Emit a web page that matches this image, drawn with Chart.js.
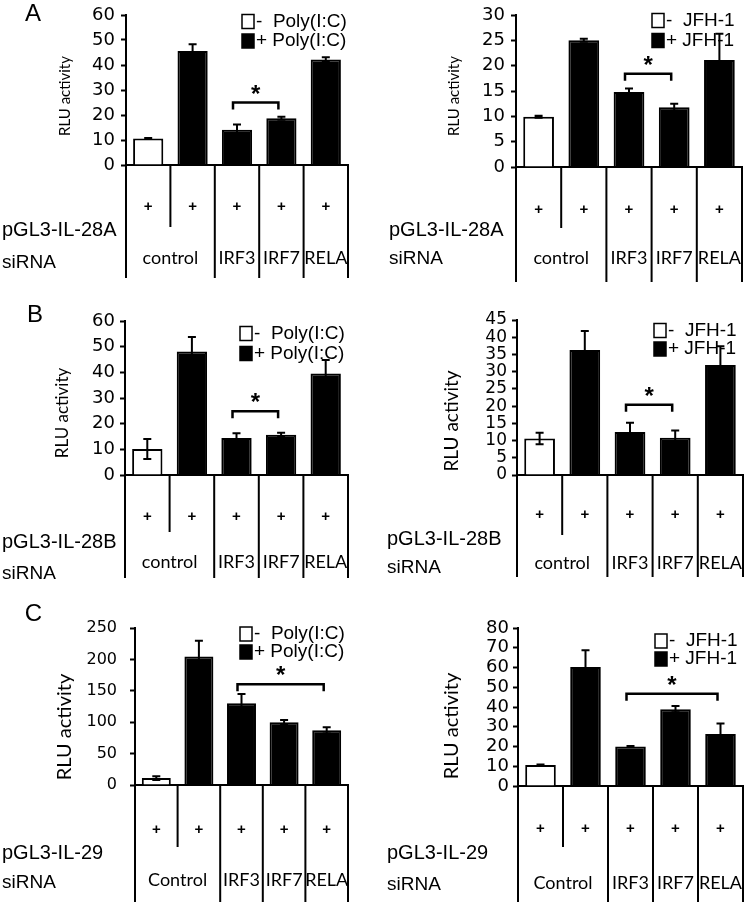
<!DOCTYPE html>
<html>
<head>
<meta charset="utf-8">
<script src="https://cdn.jsdelivr.net/npm/chart.js@4.4.1/dist/chart.umd.min.js"></script>
<style>
  body { margin: 0; background: #fff; }
  #fig { position: relative; width: 745px; height: 902px; }
  canvas { position: absolute; }
</style>
</head>
<body>
<div id="fig">
  <canvas id="aL" width="372" height="300" style="left:0;top:0"></canvas>
  <canvas id="aR" width="373" height="300" style="left:372px;top:0"></canvas>
  <canvas id="bL" width="372" height="300" style="left:0;top:300px"></canvas>
  <canvas id="bR" width="373" height="300" style="left:372px;top:300px"></canvas>
  <canvas id="cL" width="372" height="302" style="left:0;top:600px"></canvas>
  <canvas id="cR" width="373" height="302" style="left:372px;top:600px"></canvas>
</div>
<script>
// bars, left to right: control siRNA without / with stimulus, then knockdowns with stimulus
const bars = ["control -", "control +", "IRF3 +", "IRF7 +", "RELA +"];
const stimulated = [false, true, true, true, true];
const siRNA28 = ["control", "control", "IRF3", "IRF7", "RELA"];
const siRNA29 = ["Control", "Control", "IRF3", "IRF7", "RELA"];

// RLU activity (mean) and error
const il28aPoly = [10.6, 45.6, 14.1, 18.7, 42.2];
const il28aPolyErr = [0.2, 2.7, 2.1, 0.6, 0.9];
const il28aJfh = [9.9, 25.0, 14.8, 11.8, 21.1];
const il28aJfhErr = [0.2, 0.3, 0.7, 0.7, 5.2];
const il28bPoly = [10.1, 48.1, 14.4, 15.7, 39.5];
const il28bPolyErr = [3.9, 5.7, 1.9, 0.8, 5.3];
const il28bJfh = [10.6, 36.3, 12.5, 10.8, 31.9];
const il28bJfhErr = [1.7, 5.5, 2.7, 2.1, 5.5];
const il29Poly = [11, 204.5, 130, 100, 87];
const il29PolyErr = [3, 25, 15, 3.5, 5];
const il29Jfh = [10.6, 60.2, 20, 38.9, 26.3];
const il29JfhErr = [0.3, 8.5, 0.3, 1.6, 5.3];

// y tick labels
const ticks60 = [0, 10, 20, 30, 40, 50, 60];
const ticks30 = [0, 5, 10, 15, 20, 25, 30];
const ticks45 = [0, 5, 10, 15, 20, 25, 30, 35, 40, 45];
const ticks250 = [0, 50, 100, 150, 200, 250];
const ticks80 = [0, 10, 20, 30, 40, 50, 60, 70, 80];

Chart.defaults.font.family = "Liberation Sans";
Chart.defaults.color = "#000";

const panels = [
  { id: "aL", letter: "A", reporter: "pGL3-IL-28A", stim: "Poly(I:C)", siRNA: siRNA28,
    vals: il28aPoly, err: il28aPolyErr, ticks: ticks60, sig: { from: 2, to: 3, at: 25 },
    frame: { axis: 126, right: 348, top: 10, zero: 173 }, title: { x: 65, y: 96, size: 15 },
    tickSize: 18, tickPad: 6, legend: { x: 242, y: [21.5, 41] }, labelX: 2, letterPos: [33, 14.5],
    rows: { plus: 207, reporter: 230, siRNA: 263, group: 258, short: 227, end: 278 } },
  { id: "aR", reporter: "pGL3-IL-28A", stim: "JFH-1", siRNA: siRNA28,
    vals: il28aJfh, err: il28aJfhErr, ticks: ticks30, sig: { from: 2, to: 3, at: 18.4 },
    frame: { axis: 144, right: 370, top: 14, zero: 175 }, title: { x: 82, y: 96, size: 15 },
    tickSize: 18, tickPad: 6, legend: { x: 280, y: [20.5, 40.5] }, labelX: 17,
    rows: { plus: 210, reporter: 230, siRNA: 259, group: 258, short: 228, end: 282 } },
  { id: "bL", letter: "B", reporter: "pGL3-IL-28B", stim: "Poly(I:C)", siRNA: siRNA28,
    vals: il28bPoly, err: il28bPolyErr, ticks: ticks60, sig: { from: 2, to: 3, at: 24.8 },
    frame: { axis: 125, right: 348, top: 21, zero: 183 }, title: { x: 63, y: 113, size: 17 },
    tickSize: 18, tickPad: 5, legend: { x: 240, y: [33.5, 53.5] }, labelX: 2, letterPos: [35, 15.5],
    rows: { plus: 217, reporter: 242, siRNA: 274, group: 262, short: 232, end: 278 } },
  { id: "bR", reporter: "pGL3-IL-28B", stim: "JFH-1", siRNA: siRNA28,
    vals: il28bJfh, err: il28bJfhErr, ticks: ticks45, sig: { from: 2, to: 3, at: 20.4 },
    frame: { axis: 145, right: 371, top: 20, zero: 183 }, title: { x: 80, y: 121, size: 19 },
    tickSize: 17, tickPad: 5, legend: { x: 282, y: [30.5, 49] }, labelX: 15,
    rows: { plus: 215, reporter: 239, siRNA: 268, group: 263, short: 235, end: 277 } },
  { id: "cL", letter: "C", reporter: "pGL3-IL-29", stim: "Poly(I:C)", siRNA: siRNA29,
    vals: il29Poly, err: il29PolyErr, ticks: ticks250, sig: { from: 2, to: 4, at: 160.6 },
    frame: { axis: 135, right: 348, top: 28, zero: 193 }, title: { x: 65, y: 127, size: 20 },
    tickSize: 16, tickPad: 13, legend: { x: 240, y: [34, 52] }, labelX: 2, letterPos: [33.5, 14.5],
    rows: { plus: 230, reporter: 253, siRNA: 283, group: 280, short: 247, end: 302 } },
  { id: "cR", reporter: "pGL3-IL-29", stim: "JFH-1", siRNA: siRNA29,
    vals: il29Jfh, err: il29JfhErr, ticks: ticks80, sig: { from: 2, to: 4, at: 46.7 },
    frame: { axis: 146, right: 371, top: 28, zero: 194 }, title: { x: 80, y: 126, size: 20 },
    tickSize: 18, tickPad: 4, legend: { x: 283, y: [41, 59] }, labelX: 15,
    rows: { plus: 229, reporter: 253, siRNA: 285, group: 283, short: 247, end: 302 } }
];

// error bars, table under the axis, bracket, legend, titles
function figure(p) {
  return {
    id: "figure",
    afterDatasetsDraw(chart) {
      const ctx = chart.ctx, y = chart.scales.y;
      ctx.save();
      ctx.strokeStyle = "#000";
      ctx.lineWidth = 2;
      chart.data.datasets.forEach((ds, di) => {
        chart.getDatasetMeta(di).data.forEach((bar, i) => {
          if (ds.data[i] == null) return;
          const hi = y.getPixelForValue(ds.data[i] + p.err[i]);
          const lo = y.getPixelForValue(ds.data[i] - p.err[i]);
          ctx.beginPath();
          ctx.moveTo(bar.x, hi); ctx.lineTo(bar.x, lo);
          ctx.moveTo(bar.x - 4, hi); ctx.lineTo(bar.x + 4, hi);
          ctx.moveTo(bar.x - 4, lo); ctx.lineTo(bar.x + 4, lo);
          ctx.stroke();
        });
      });
      ctx.restore();
    },
    afterDraw(chart) {
      const ctx = chart.ctx, x = chart.scales.x, y = chart.scales.y, area = chart.chartArea;
      const n = p.vals.length, r = p.rows;
      ctx.save();
      ctx.strokeStyle = "#000";
      ctx.fillStyle = "#000";
      ctx.lineWidth = 2;

      /* table lines */
      ctx.beginPath();
      ctx.moveTo(area.left, area.bottom); ctx.lineTo(area.left, r.end);
      for (let i = 1; i <= n; i++) {
        const bx = x.getPixelForValue(i - 0.5);
        const same = i < n && p.siRNA[i] === p.siRNA[i - 1];
        ctx.moveTo(bx, area.bottom); ctx.lineTo(bx, same ? r.short : r.end);
      }
      ctx.stroke();

      ctx.textAlign = "center";
      ctx.textBaseline = "middle";
      ctx.font = "bold 15px 'Liberation Sans'";
      for (let i = 0; i < n; i++) ctx.fillText("+", x.getPixelForValue(i), r.plus);

      ctx.font = "18px Lato";
      let s = 0;
      for (let i = 1; i <= n; i++) {
        if (i === n || p.siRNA[i] !== p.siRNA[s]) {
          ctx.fillText(p.siRNA[s], x.getPixelForValue((s + i - 1) / 2), r.group);
          s = i;
        }
      }

      ctx.textAlign = "left";
      ctx.font = "20px 'Liberation Sans'";
      ctx.fillText(p.reporter, p.labelX, r.reporter);
      ctx.font = "19px 'Liberation Sans'";
      ctx.fillText("siRNA", p.labelX, r.siRNA);

      /* significance bracket */
      const yb = y.getPixelForValue(p.sig.at);
      const xa = x.getPixelForValue(p.sig.from) - 4, xb = x.getPixelForValue(p.sig.to) - 3;
      ctx.lineWidth = 2.5;
      ctx.beginPath();
      ctx.moveTo(xa, yb + 7); ctx.lineTo(xa, yb); ctx.lineTo(xb, yb); ctx.lineTo(xb, yb + 7);
      ctx.stroke();
      ctx.textAlign = "center";
      ctx.textBaseline = "alphabetic";
      ctx.font = "bold 24px 'Liberation Sans'";
      ctx.fillText("*", (xa + xb) / 2, yb - 1);

      /* legend */
      ctx.lineWidth = 1.5;
      ctx.textAlign = "left";
      ctx.textBaseline = "middle";
      ctx.font = "19px 'Liberation Sans'";
      chart.data.datasets.forEach((ds, di) => {
        const ly = p.legend.y[di];
        ctx.fillStyle = ds.backgroundColor;
        ctx.fillRect(p.legend.x, ly - 7, 12, 14);
        ctx.strokeRect(p.legend.x, ly - 7, 12, 14);
        ctx.fillStyle = "#000";
        ctx.fillText(ds.label, p.legend.x + 14, ly);
      });

      /* y title */
      ctx.save();
      ctx.translate(p.title.x, p.title.y);
      ctx.rotate(-Math.PI / 2);
      ctx.textAlign = "center";
      ctx.font = p.title.size + "px Lato";
      ctx.fillText("RLU activity", 0, 0);
      ctx.restore();

      if (p.letter) {
        ctx.textAlign = "center";
        ctx.font = "24px 'Liberation Sans'";
        ctx.fillText(p.letter, p.letterPos[0], p.letterPos[1]);
      }
      ctx.restore();
    }
  };
}

panels.forEach(p => {
  const cv = document.getElementById(p.id);
  const f = p.frame;
  const common = { borderColor: "#000", borderWidth: 2, grouped: false, barPercentage: 0.68, categoryPercentage: 1 };
  new Chart(cv, {
    type: "bar",
    data: {
      labels: bars,
      datasets: [
        Object.assign({ label: "-  " + p.stim, data: p.vals.map((v, i) => stimulated[i] ? null : v), backgroundColor: "#fff" }, common),
        Object.assign({ label: "+ " + p.stim, data: p.vals.map((v, i) => stimulated[i] ? v : null), backgroundColor: "#000" }, common)
      ]
    },
    options: {
      responsive: false,
      animation: false,
      layout: { padding: { left: 0, right: cv.width - f.right, top: f.top, bottom: cv.height - f.zero } },
      plugins: { legend: { display: false }, tooltip: { enabled: false } },
      scales: {
        x: {
          grid: { display: false },
          ticks: { display: false },
          border: { color: "#000", width: 2 }
        },
        y: {
          min: p.ticks[0],
          max: p.ticks[p.ticks.length - 1],
          afterBuildTicks: s => { s.ticks = p.ticks.map(v => ({ value: v })); },
          afterFit: s => { s.width = f.axis; },
          ticks: { autoSkip: false, padding: p.tickPad, color: "#000", font: { family: "DejaVu Sans", size: p.tickSize, lineHeight: 1 } },
          grid: { drawOnChartArea: false, tickLength: 5, tickWidth: 2, tickColor: "#000" },
          border: { color: "#000", width: 2 }
        }
      }
    },
    plugins: [figure(p)]
  });
});
</script>
</body>
</html>
